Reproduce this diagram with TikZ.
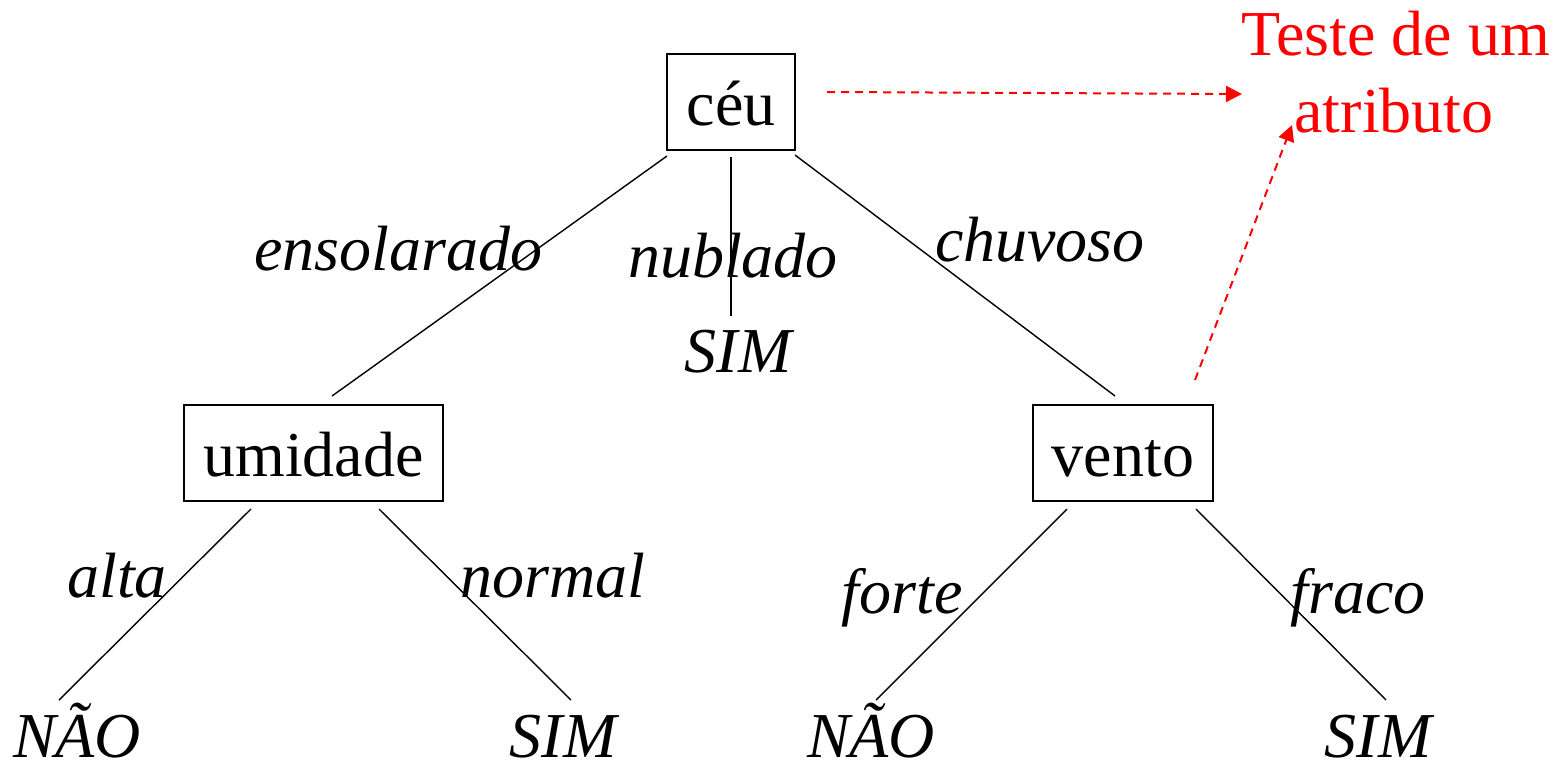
\documentclass[tikz,border=0pt]{standalone}
\usepackage{fontspec}
\setmainfont{Liberation Serif}
\usetikzlibrary{arrows.meta}
\begin{document}
\begin{tikzpicture}[x=0.5pt,y=-0.5pt,
  every node/.style={font=\fontsize{32}{38}\selectfont, inner sep=0pt},
  box/.style={draw, line width=0.7pt, minimum height=48pt, text height=23pt, text depth=0pt},
  lbl/.style={font=\fontsize{32}{38}\selectfont\itshape, anchor=base},
  edge/.style={line width=0.7pt},
  red/.style={draw=red, line width=1pt, dash pattern=on 4pt off 3pt, -{Triangle[length=8pt,width=8pt]}}]
\useasboundingbox (0,0) rectangle (1565,762);
% boxes
\node[box, minimum width=64pt] (ceu) at (731,102) {céu};
\node[box, minimum width=129.5pt] (umi) at (313.5,453) {umidade};
\node[box, minimum width=90pt] (vento) at (1123,453) {vento};
% leaves
\node[lbl] (sim0) at (738,372) {SIM};
\node[lbl] (nao1) at (77,757) {NÃO};
\node[lbl] (sim1) at (563,757) {SIM};
\node[lbl] (nao2) at (871,757) {NÃO};
\node[lbl] (sim2) at (1378,757) {SIM};
% edge labels
\node[lbl] (l1) at (398,270) {ensolarado};
\node[lbl] (l2) at (733,277) {nublado};
\node[lbl] (l3) at (1040,261) {chuvoso};
\node[lbl] (l4) at (117,597) {alta};
\node[lbl] (l5) at (553,597) {normal};
\node[lbl] (l6) at (902,613) {forte};
\node[lbl] (l7) at (1358,613) {fraco};
% red text
\node[text=red, anchor=base] (t1) at (1396,55) {Teste de um};
\node[text=red, anchor=base] (t2) at (1394,132) {atributo};
% connector endpoints
\coordinate (a1) at (667,156); \coordinate (a2) at (332,396);
\coordinate (b1) at (731,157); \coordinate (b2) at (731,316);
\coordinate (c1) at (795,155); \coordinate (c2) at (1115,396);
\coordinate (d1) at (251,509); \coordinate (d2) at (59,700);
\coordinate (e1) at (379,509); \coordinate (e2) at (571,700);
\coordinate (f1) at (1067,509); \coordinate (f2) at (876,700);
\coordinate (g1) at (1196,509); \coordinate (g2) at (1386,700);
\draw[edge] (a1) -- (a2);
\draw[edge] (b1) -- (b2);
\draw[edge] (c1) -- (c2);
\draw[edge] (d1) -- (d2);
\draw[edge] (e1) -- (e2);
\draw[edge] (f1) -- (f2);
\draw[edge] (g1) -- (g2);
% red arrows
\coordinate (r1) at (827,92); \coordinate (r2) at (1242,94);
\coordinate (s1) at (1195,380); \coordinate (s2) at (1292,125);
\draw[red] (r1) -- (r2);
\draw[red] (s1) -- (s2);
\end{tikzpicture}
\end{document}
